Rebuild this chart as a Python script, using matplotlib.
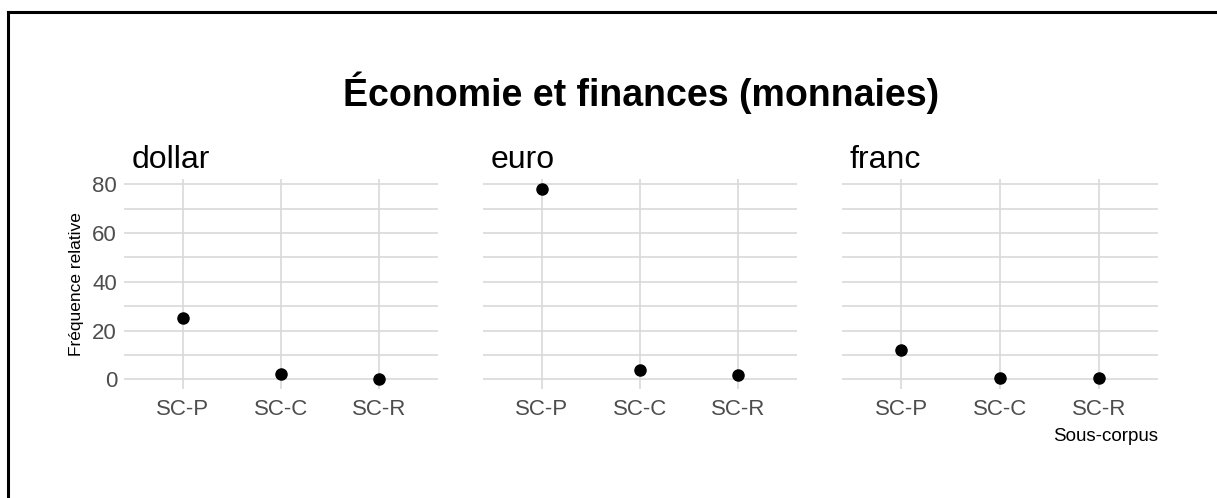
import numpy as np
import matplotlib.pyplot as plt
from matplotlib.lines import Line2D

plt.rcParams['font.family'] = ['Liberation Sans', 'DejaVu Sans']

title = "Économie et finances (monnaies)"
groups = ["dollar", "euro", "franc"]
categories = ["SC-P", "SC-C", "SC-R"]
dollar = [25.1, 2.4, 0.0]
euro = [78.2, 3.8, 1.8]
franc = [11.9, 0.7, 0.7]
series = [dollar, euro, franc]
yticks = [0, 20, 40, 60, 80]
yminor = [10, 30, 50, 70]

W, H = 1217, 498
fig = plt.figure(figsize=(W / 100, H / 100), dpi=100)

# panel positions in pixels (left, right)
panels = [(124, 438), (483, 797), (842, 1158)]
top_px, bot_px = 179, 389

ymax = max(max(s) for s in series)
ylim = (-0.05 * ymax, 1.05 * ymax)
grid_c = '#d9d9d9'
x = np.arange(len(categories))

for i, (name, vals) in enumerate(zip(groups, series)):
    l, r = panels[i]
    ax = fig.add_axes([l / W, (H - bot_px) / H, (r - l) / W, (bot_px - top_px) / H])
    ax.set_xlim(-0.6, len(categories) - 0.4)
    ax.set_ylim(*ylim)
    for yv in yticks + yminor:
        ax.axhline(yv, color=grid_c, lw=1.2, zorder=0)
    for xv in x:
        ax.axvline(xv, color=grid_c, lw=1.2, zorder=0)
    ax.plot(x, vals, 'o', color='black', ms=8, zorder=3)
    ax.set_xticks(x)
    ax.set_xticklabels(categories)
    ax.set_yticks(yticks)
    if i == 0:
        ax.set_yticklabels([str(v) for v in yticks])
        ax.set_ylabel("Fréquence relative", fontsize=12.5, labelpad=6)
    else:
        ax.set_yticklabels([])
    ax.tick_params(length=0, labelsize=16, labelcolor='#4d4d4d', pad=5)
    ax.tick_params(axis='x', pad=7)
    for s in ax.spines.values():
        s.set_visible(False)
    ax.set_title(name, loc='left', fontsize=23, pad=8, x=0.025)
    if i == len(groups) - 1:
        ax.set_xlabel("Sous-corpus", fontsize=13.5, loc='right', labelpad=6)

fig.text(641 / W, 1 - 93 / H, title, ha='center', va='center',
         fontsize=27, fontweight='bold')

# frame around the figure (top and left edges visible)
fig.add_artist(Line2D([8 / W, 1], [1 - 12 / H, 1 - 12 / H], color='black', lw=2.2))
fig.add_artist(Line2D([8 / W, 8 / W], [0, 1 - 12 / H], color='black', lw=2.2))

fig.savefig("out.png", dpi=100, facecolor='white')
